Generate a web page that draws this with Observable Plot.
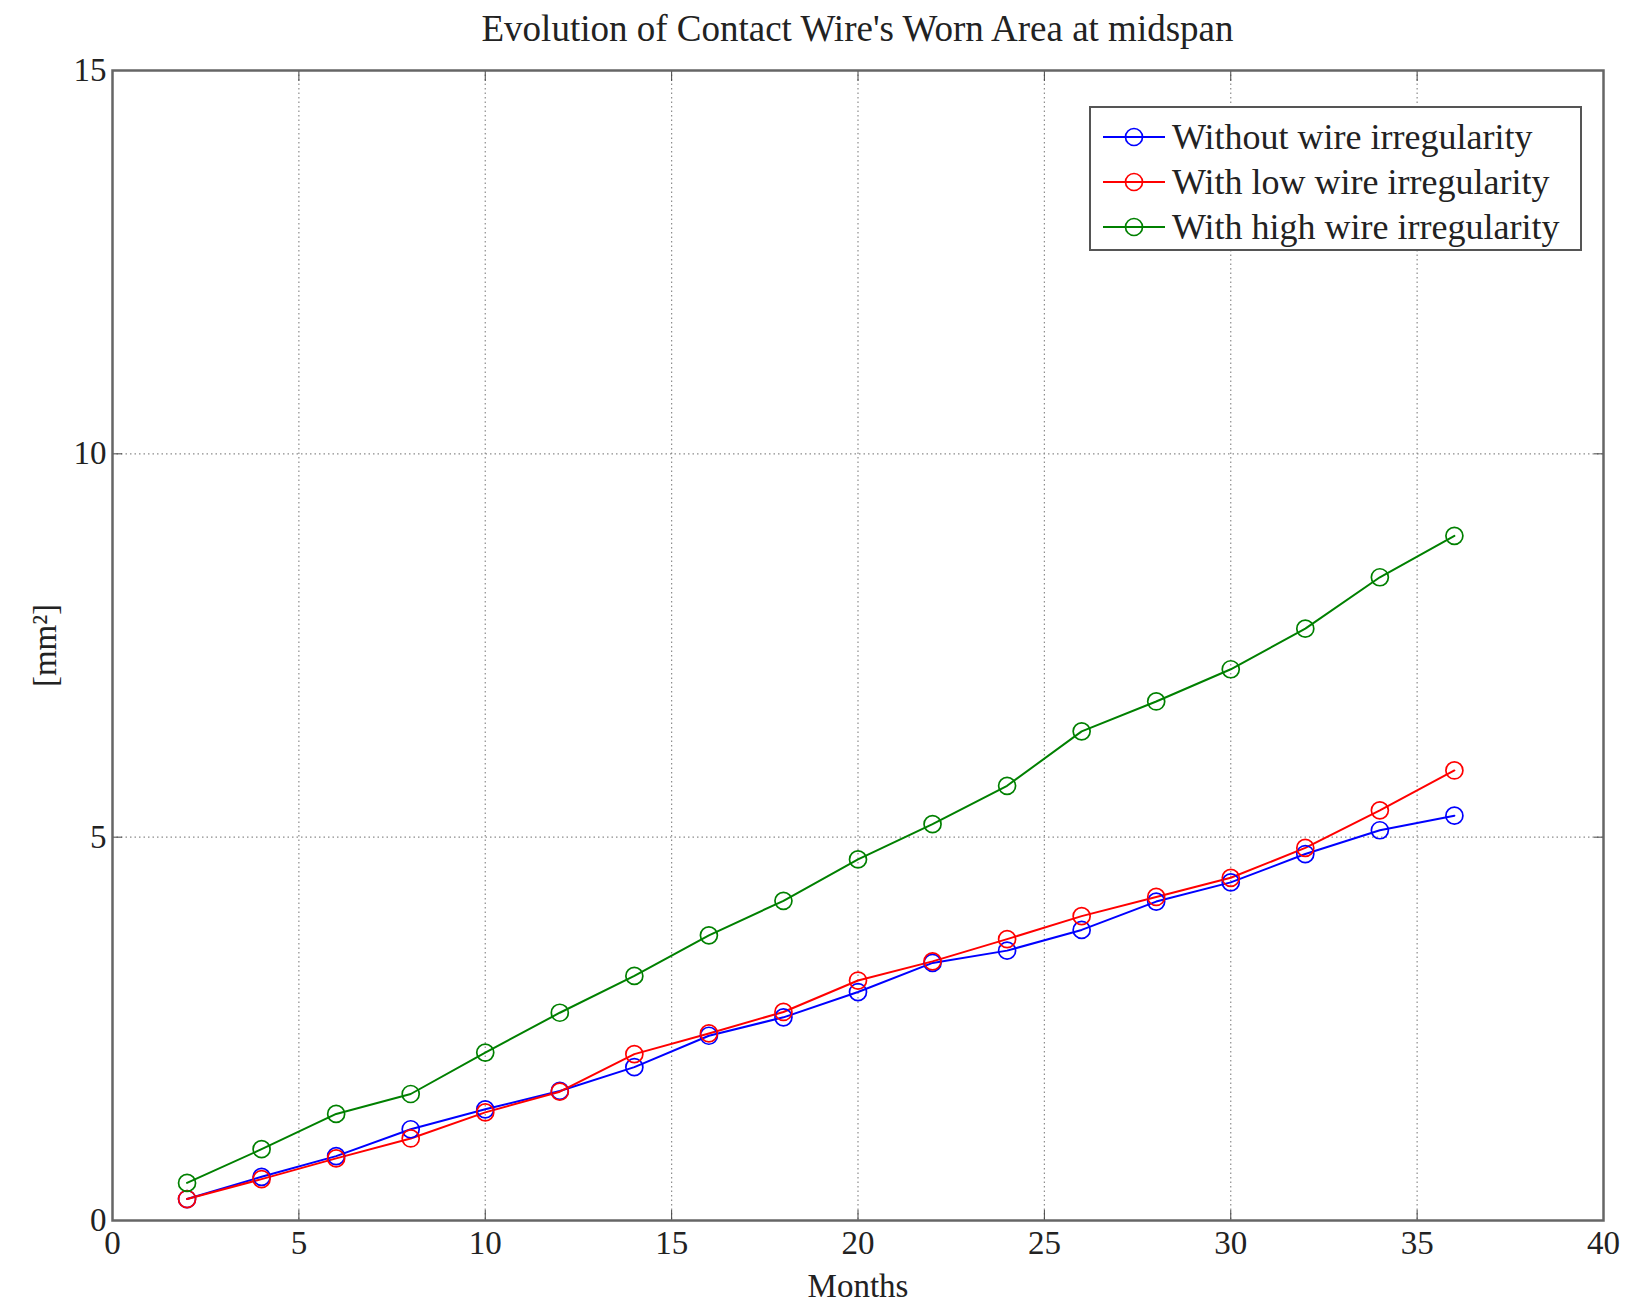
<!DOCTYPE html>
<html>
<head>
<meta charset="utf-8">
<script src="https://cdn.jsdelivr.net/npm/d3@7"></script>
<script src="https://cdn.jsdelivr.net/npm/@observablehq/plot@0.6"></script>
<style>
  html, body { margin: 0; padding: 0; background: #fff; }
  #wrap { position: relative; width: 1627px; height: 1307px; font-family: "Liberation Serif", "DejaVu Serif", serif; }
  #title { height: 50px; box-sizing: border-box; padding-left: 112px; padding-right: 24px; text-align: center; font-size: 37px; line-height: 50px; color: #222; padding-top: 4px; }
  #legend { position: absolute; left: 1089px; top: 106px; width: 493px; height: 145px; box-sizing: border-box; border: 2px solid #555; background: #fff; padding-top: 6px; }
  .row { height: 45px; display: flex; align-items: center; font-size: 36px; color: #222; white-space: nowrap; }
  .row svg { margin-left: 11px; margin-right: 6px; flex: none; }
</style>
</head>
<body>
<div id="wrap">
  <div id="title">Evolution of Contact Wire's Worn Area at midspan</div>
  <div id="chart"></div>
  <div id="legend"></div>
</div>
<script>
const months = [2, 4, 6, 8, 10, 12, 14, 16, 18, 20, 22, 24, 26, 28, 30, 32, 34, 36];
const withoutIrregularity = [0.28, 0.57, 0.84, 1.19, 1.45, 1.69, 2.00, 2.41, 2.65, 2.98, 3.36, 3.52, 3.79, 4.16, 4.41, 4.78, 5.09, 5.28];
const lowIrregularity     = [0.28, 0.54, 0.81, 1.07, 1.41, 1.68, 2.17, 2.44, 2.72, 3.13, 3.38, 3.67, 3.97, 4.22, 4.47, 4.86, 5.35, 5.87];
const highIrregularity    = [0.49, 0.93, 1.39, 1.65, 2.19, 2.71, 3.19, 3.72, 4.17, 4.71, 5.17, 5.67, 6.38, 6.77, 7.19, 7.72, 8.39, 8.93];
const seriesNames = ["Without wire irregularity", "With low wire irregularity", "With high wire irregularity"];
const seriesColors = ["#0000ff", "#ff0000", "#008000"];
const xTicks = [0, 5, 10, 15, 20, 25, 30, 35, 40];
const yTicks = [0, 5, 10, 15];

const seriesValues = [withoutIrregularity, lowIrregularity, highIrregularity];
const data = seriesNames.flatMap((name, i) =>
  months.map((m, j) => ({ series: name, month: m, value: seriesValues[i][j] }))
);

const gridStyle = { stroke: "#8c8c8c", strokeWidth: 1.2, strokeDasharray: "1.5,3" };
const blank = () => "";
const intFmt = d3.format("d");

const chart = Plot.plot({
  width: 1627,
  height: 1257,
  marginLeft: 112,
  marginRight: 24,
  marginTop: 20,
  marginBottom: 87,
  style: { fontFamily: "'Liberation Serif', 'DejaVu Serif', serif", fontSize: "32px", color: "#222", background: "#fff" },
  x: { domain: [0, 40] },
  y: { domain: [0, 15] },
  color: { domain: seriesNames, range: seriesColors },
  marks: [
    Plot.ruleX(xTicks.slice(1, -1), gridStyle),
    Plot.ruleY(yTicks.slice(1, -1), gridStyle),
    Plot.axisX(xTicks, { anchor: "bottom", tickSize: -10, tickFormat: blank, label: null, stroke: "#444" }),
    Plot.axisX(xTicks, { anchor: "top", tickSize: -10, tickFormat: blank, label: null, stroke: "#444" }),
    Plot.axisY(yTicks, { anchor: "left", tickSize: -10, tickFormat: blank, label: null, stroke: "#444" }),
    Plot.axisY(yTicks, { anchor: "right", tickSize: -10, tickFormat: blank, label: null, stroke: "#444" }),
    Plot.axisX(xTicks, { anchor: "bottom", tickSize: 0, tickPadding: 10, tickFormat: intFmt, label: "Months", labelAnchor: "center", labelArrow: "none", labelOffset: 76, fontSize: 33 }),
    Plot.axisY(yTicks, { anchor: "left", tickSize: 0, tickPadding: 6, tickFormat: intFmt, label: "[mm²]", labelAnchor: "center", labelArrow: "none", labelOffset: 80, fontSize: 33 }),
    Plot.frame({ stroke: "#666", strokeWidth: 2.5 }),
    Plot.line(data, { x: "month", y: "value", z: "series", stroke: "series", strokeWidth: 2 }),
    Plot.dot(data, { x: "month", y: "value", stroke: "series", r: 8.5, strokeWidth: 1.7, fill: "none" })
  ]
});
document.getElementById("chart").appendChild(chart);

const legend = document.getElementById("legend");
seriesNames.forEach((name, i) => {
  const row = document.createElement("div");
  row.className = "row";
  row.innerHTML = `<svg width="64" height="24"><line x1="1" x2="63" y1="12" y2="12" stroke="${seriesColors[i]}" stroke-width="2"/><circle cx="32" cy="12" r="8.5" fill="none" stroke="${seriesColors[i]}" stroke-width="1.7"/></svg><span>${name}</span>`;
  legend.appendChild(row);
});
</script>
</body>
</html>
